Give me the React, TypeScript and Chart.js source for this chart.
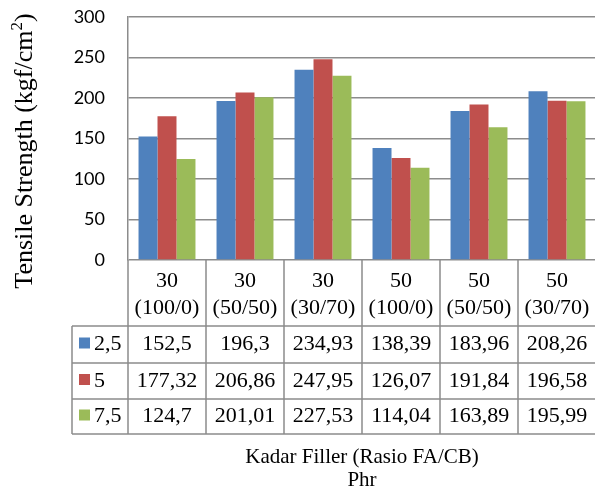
import React, { useEffect, useRef } from "react";
import { Chart, registerables } from "chart.js";

Chart.register(...registerables);

// Filler content (Phr) and FA/CB ratio for each group
const categoryTop = ["30", "30", "30", "50", "50", "50"];
const categoryBottom = ["(100/0)", "(50/50)", "(30/70)", "(100/0)", "(50/50)", "(30/70)"];

// Series names and tensile strength values (kgf/cm²)
const seriesNames = ["2,5", "5", "7,5"];
const series25 = [152.5, 196.3, 234.93, 138.39, 183.96, 208.26];
const series5 = [177.32, 206.86, 247.95, 126.07, 191.84, 196.58];
const series75 = [124.7, 201.01, 227.53, 114.04, 163.89, 195.99];
const seriesColors = ["#4F81BD", "#C0504D", "#9BBB59"];

const yMin = 0;
const yMax = 300;
const yStep = 50;

const SERIF = "'Liberation Serif', 'Times New Roman', serif";
const SANS = "Lato, 'Open Sans', sans-serif";
const LINE = "#8c8c8c";

const fmt = (v: number) => String(v).replace(".", ",");

const dataTablePlugin = {
  id: "dataTable",
  afterDraw(chart: any) {
    const ctx: CanvasRenderingContext2D = chart.ctx;
    const area = chart.chartArea;
    const n = categoryTop.length;
    const colW = (area.right - area.left) / n;
    const top = area.bottom;
    const headerBottom = top + 66;
    const rowH = [37, 36, 35];
    const rowEdges = [headerBottom];
    rowH.forEach((h) => rowEdges.push(rowEdges[rowEdges.length - 1] + h));
    const legendLeft = 72;
    const allSeries = [series25, series5, series75];

    ctx.save();
    ctx.strokeStyle = LINE;
    ctx.lineWidth = 1.5;
    ctx.beginPath();
    // vertical column lines
    for (let i = 0; i <= n; i++) {
      const x = area.left + i * colW;
      ctx.moveTo(x, top);
      ctx.lineTo(x, rowEdges[rowEdges.length - 1]);
    }
    // left border of the legend column
    ctx.moveTo(legendLeft, headerBottom);
    ctx.lineTo(legendLeft, rowEdges[rowEdges.length - 1]);
    // horizontal row lines
    rowEdges.forEach((y) => {
      ctx.moveTo(legendLeft, y);
      ctx.lineTo(area.right, y);
    });
    ctx.stroke();

    // header text
    ctx.fillStyle = "#000";
    ctx.font = `22px ${SERIF}`;
    ctx.textAlign = "center";
    ctx.textBaseline = "middle";
    for (let i = 0; i < n; i++) {
      const cx = area.left + (i + 0.5) * colW;
      ctx.fillText(categoryTop[i], cx, top + 21);
      ctx.fillText(categoryBottom[i], cx, top + 48);
    }

    // value rows with legend keys
    allSeries.forEach((vals, r) => {
      const cy = (rowEdges[r] + rowEdges[r + 1]) / 2;
      ctx.fillStyle = seriesColors[r];
      ctx.fillRect(79, cy - 7, 11, 11);
      ctx.fillStyle = "#000";
      ctx.textAlign = "left";
      ctx.fillText(seriesNames[r], 94, cy);
      ctx.textAlign = "center";
      vals.forEach((v, i) => {
        const cx = area.left + (i + 0.5) * colW;
        ctx.fillText(fmt(v), cx, cy);
      });
    });

    // horizontal axis title
    ctx.font = `21px ${SERIF}`;
    ctx.textBaseline = "alphabetic";
    ctx.textAlign = "center";
    const titleX = 362;
    ctx.fillText("Kadar Filler (Rasio FA/CB)", titleX, 463);
    ctx.fillText("Phr", titleX, 486);

    // vertical axis title with superscript
    const main = "Tensile Strength (kgf/cm";
    const sup = "2";
    const end = ")";
    ctx.font = `26px ${SERIF}`;
    const wMain = ctx.measureText(main).width;
    const wEnd = ctx.measureText(end).width;
    ctx.font = `17px ${SERIF}`;
    const wSup = ctx.measureText(sup).width;
    const total = wMain + wSup + wEnd;
    ctx.translate(32, 151);
    ctx.rotate(-Math.PI / 2);
    ctx.textAlign = "left";
    let x = -total / 2;
    ctx.font = `26px ${SERIF}`;
    ctx.fillText(main, x, 0);
    x += wMain;
    ctx.font = `17px ${SERIF}`;
    ctx.fillText(sup, x, -10);
    x += wSup;
    ctx.font = `26px ${SERIF}`;
    ctx.fillText(end, x, 0);
    ctx.restore();
  },
};

export default function App() {
  const ref = useRef<HTMLCanvasElement | null>(null);

  useEffect(() => {
    if (!ref.current) return;
    const labels = categoryTop.map((t, i) => `${t} ${categoryBottom[i]}`);
    const chart = new Chart(ref.current, {
      type: "bar",
      data: {
        labels,
        datasets: [series25, series5, series75].map((vals, i) => ({
          label: seriesNames[i],
          data: vals,
          backgroundColor: seriesColors[i],
          borderWidth: 0,
          categoryPercentage: 0.73,
          barPercentage: 1.0,
        })),
      },
      options: {
        responsive: false,
        animation: false,
        devicePixelRatio: 1,
        layout: { padding: { left: 0, top: 17, right: 6, bottom: 228 } },
        plugins: {
          legend: { display: false },
          tooltip: { enabled: false },
          title: { display: false },
        },
        scales: {
          x: { display: false },
          y: {
            min: yMin,
            max: yMax,
            ticks: {
              stepSize: yStep,
              padding: 23,
              color: "#000",
              font: { family: SANS, size: 18 },
            },
            grid: { color: LINE, lineWidth: 1.5, drawTicks: false },
            border: { display: true, color: LINE, width: 1.5 },
            afterFit: (scale: any) => {
              // fixed axis width; keep only half-label room above/below
              scale.width = 128;
              scale.paddingTop = 10;
              scale.paddingBottom = 10;
            },
          },
        },
      },
      plugins: [dataTablePlugin],
    });
    return () => chart.destroy();
  }, []);

  return (
    <div
      style={{
        position: "absolute",
        left: 0,
        top: 0,
        width: 595,
        height: 488,
        overflow: "hidden",
        background: "#fff",
      }}
    >
      <canvas ref={ref} width={602} height={488} style={{ display: "block" }} />
    </div>
  );
}
